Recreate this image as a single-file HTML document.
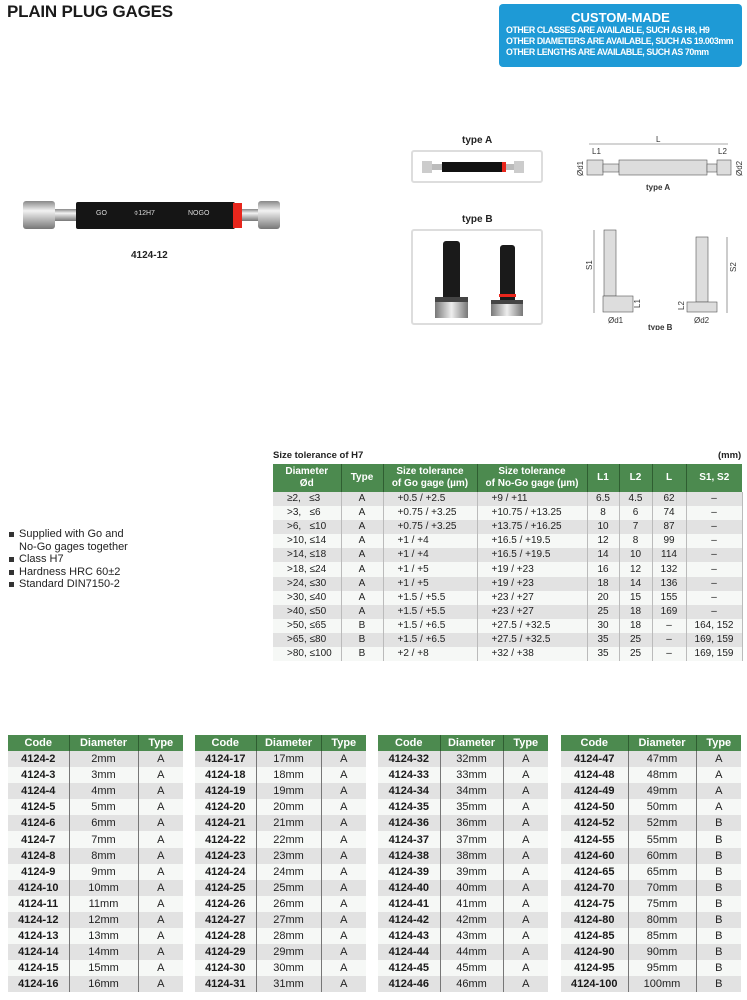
<!DOCTYPE html>
<html><head><meta charset="utf-8"><style>
*{margin:0;padding:0;box-sizing:border-box}
body{width:747px;height:1000px;background:#fff;position:relative;font-family:"Liberation Sans",Arial,sans-serif;overflow:hidden;color:#222}
.abs{position:absolute}
h1{position:absolute;left:7px;top:2px;font-size:17px;font-weight:bold;color:#1a1a1a;letter-spacing:-0.2px}
.cm{position:absolute;left:499px;top:4px;width:243px;height:63px;background:#1e9ad6;border-radius:4px;color:#fff;font-weight:bold}
.cm .t{text-align:center;font-size:13px;margin-top:7px;line-height:14px}
.cm .l{font-size:8.8px;line-height:11px;margin-left:7px;letter-spacing:-0.4px}
table{border-collapse:collapse;position:absolute;table-layout:fixed}
th{background:#4c8a4f;color:#fff;font-weight:bold;font-size:11px;text-align:center}
td{font-size:11px;text-align:center;padding:0;white-space:nowrap}
tr.g td{background:#e2e2e2}
tr.w td{background:#f6f8f6}
.bt th{height:16px;border-right:1px solid #2f5e31}
.bt td{height:16.1px;line-height:16px}
.bt td:first-child{font-weight:bold;color:#1a1a1a}
.bt td:nth-child(1),.bt td:nth-child(2){border-right:1px solid #777}
.bt th:last-child{border-right:none}
.ht th{height:28px;font-size:10px;line-height:12px;border-right:1px solid #2f5e31}
.ht td{height:14.1px;font-size:10px;line-height:14px;border-right:1px solid #bbb}
.ht td.lf{text-align:left;padding-left:14px}
.ul{position:absolute;left:8px;top:528px;font-size:11px;line-height:12.5px;color:#222;list-style:none}
.ul li{position:relative;padding-left:11px}
.ul li:before{content:"";position:absolute;left:1px;top:4px;width:5px;height:5px;background:#333}
.lbl{position:absolute;font-size:10px;font-weight:bold;color:#222}
</style></head><body>
<h1>PLAIN PLUG GAGES</h1>
<div class="cm"><div class="t">CUSTOM-MADE</div>
<div class="l">OTHER CLASSES ARE AVAILABLE, SUCH AS H8, H9</div>
<div class="l">OTHER DIAMETERS ARE AVAILABLE, SUCH AS 19.003mm</div>
<div class="l">OTHER LENGTHS ARE AVAILABLE, SUCH AS 70mm</div></div>

<svg class="abs" style="left:0;top:190px" width="300" height="50">
<defs><linearGradient id="m" x1="0" y1="0" x2="0" y2="1"><stop offset="0" stop-color="#888"/><stop offset="0.35" stop-color="#f2f2f2"/><stop offset="1" stop-color="#777"/></linearGradient></defs>
<rect x="23" y="11" width="32" height="28" rx="3" fill="url(#m)"/>
<rect x="55" y="19" width="22" height="12" fill="url(#m)"/>
<rect x="76" y="12" width="159" height="27" rx="2" fill="#151515"/>
<rect x="233" y="13" width="9" height="25" fill="#e8261c"/>
<rect x="242" y="19" width="17" height="12" fill="url(#m)"/>
<rect x="258" y="11" width="22" height="28" rx="3" fill="url(#m)"/>
<text x="96" y="25" font-size="7" fill="#ddd" font-family="Liberation Sans">GO</text>
<text x="134" y="25" font-size="7" fill="#ddd" font-family="Liberation Sans">⌽12H7</text>
<text x="188" y="25" font-size="7" fill="#ddd" font-family="Liberation Sans">NOGO</text>
</svg>
<div class="lbl" style="left:131px;top:250px">4124-12</div>

<div class="lbl" style="left:462px;top:135px">type A</div>
<div class="abs" style="left:411px;top:150px;width:132px;height:33px;border:2px solid #ddd;border-radius:3px"></div>
<svg class="abs" style="left:420px;top:157px" width="115" height="20">
<rect x="2" y="4" width="10" height="12" fill="#ccc"/><rect x="12" y="7" width="10" height="6" fill="#bbb"/>
<rect x="22" y="5" width="60" height="10" fill="#111"/><rect x="82" y="5" width="4" height="10" fill="#e8261c"/>
<rect x="86" y="7" width="8" height="6" fill="#bbb"/><rect x="94" y="4" width="10" height="12" fill="#ccc"/></svg>

<div class="lbl" style="left:462px;top:214px">type B</div>
<div class="abs" style="left:411px;top:229px;width:132px;height:96px;border:2px solid #ddd;border-radius:3px"></div>
<svg class="abs" style="left:413px;top:231px" width="128" height="92">
<defs><linearGradient id="s" x1="0" y1="0" x2="1" y2="0"><stop offset="0" stop-color="#777"/><stop offset="0.5" stop-color="#eee"/><stop offset="1" stop-color="#777"/></linearGradient></defs>
<rect x="30" y="10" width="17" height="70" rx="3" fill="#1a1a1a"/>
<rect x="22" y="66" width="33" height="21" fill="url(#s)"/><rect x="22" y="66" width="33" height="5" fill="#444"/>
<rect x="87" y="14" width="15" height="66" rx="3" fill="#1a1a1a"/><rect x="86" y="63" width="17" height="3" fill="#e8261c"/>
<rect x="78" y="69" width="32" height="16" fill="url(#s)"/><rect x="78" y="69" width="32" height="4" fill="#444"/>
</svg>

<svg class="abs" style="left:570px;top:130px" width="177" height="200" font-family="Liberation Sans" font-size="8" fill="#333">
<line x1="19" y1="14" x2="158" y2="14" stroke="#555" stroke-width="0.6"/>
<text x="86" y="12">L</text>
<text x="22" y="24">L1</text><text x="148" y="24">L2</text>
<rect x="17" y="30" width="16" height="15" fill="#ddd" stroke="#555" stroke-width="0.6"/>
<rect x="33" y="34" width="16" height="8" fill="#ddd" stroke="#555" stroke-width="0.6"/>
<rect x="49" y="30" width="88" height="15" fill="#ddd" stroke="#555" stroke-width="0.6"/>
<rect x="137" y="34" width="10" height="8" fill="#ddd" stroke="#555" stroke-width="0.6"/>
<rect x="147" y="30" width="14" height="15" fill="#ddd" stroke="#555" stroke-width="0.6"/>
<text x="0" y="0" transform="translate(13,46) rotate(-90)">Ød1</text>
<text x="0" y="0" transform="translate(172,46) rotate(-90)">Ød2</text>
<text x="76" y="60" font-weight="bold">type A</text>
<rect x="34" y="100" width="12" height="66" fill="#ddd" stroke="#555" stroke-width="0.6"/>
<rect x="33" y="166" width="30" height="16" fill="#ddd" stroke="#555" stroke-width="0.6"/>
<line x1="24" y1="100" x2="24" y2="183" stroke="#555" stroke-width="0.6"/>
<text x="0" y="0" transform="translate(22,140) rotate(-90)">S1</text>
<text x="0" y="0" transform="translate(70,178) rotate(-90)">L1</text>
<text x="38" y="193">Ød1</text>
<rect x="126" y="107" width="12" height="65" fill="#ddd" stroke="#555" stroke-width="0.6"/>
<rect x="117" y="172" width="30" height="10" fill="#ddd" stroke="#555" stroke-width="0.6"/>
<line x1="157" y1="107" x2="157" y2="183" stroke="#555" stroke-width="0.6"/>
<text x="0" y="0" transform="translate(166,142) rotate(-90)">S2</text>
<text x="0" y="0" transform="translate(114,180) rotate(-90)">L2</text>
<text x="124" y="193">Ød2</text>
<text x="78" y="200" font-weight="bold">type B</text>
</svg>

<ul class="ul"><li>Supplied with Go and<br>No-Go gages together</li><li>Class H7</li><li>Hardness HRC 60±2</li><li>Standard DIN7150-2</li></ul>

<div class="lbl" style="left:273px;top:450px;font-size:9.5px">Size tolerance of H7</div>
<div class="lbl" style="left:718px;top:450px;font-size:9.5px">(mm)</div>
<table class="ht" style="left:273px;top:464px;width:469px">
<colgroup><col style="width:68px"><col style="width:42px"><col style="width:94px"><col style="width:110px"><col style="width:32px"><col style="width:33px"><col style="width:34px"><col style="width:56px"></colgroup>
<tr><th>Diameter<br>Ød</th><th>Type</th><th>Size tolerance<br>of Go gage (µm)</th><th>Size tolerance<br>of No-Go gage (µm)</th><th>L1</th><th>L2</th><th>L</th><th style="border-right:none">S1, S2</th></tr>
<tr class="g"><td class="lf">≥2, &nbsp; ≤3</td><td>A</td><td class="lf">+0.5 / +2.5</td><td class="lf">+9 / +11</td><td>6.5</td><td>4.5</td><td>62</td><td>–</td></tr>
<tr class="w"><td class="lf">&gt;3, &nbsp; ≤6</td><td>A</td><td class="lf">+0.75 / +3.25</td><td class="lf">+10.75 / +13.25</td><td>8</td><td>6</td><td>74</td><td>–</td></tr>
<tr class="g"><td class="lf">&gt;6, &nbsp; ≤10</td><td>A</td><td class="lf">+0.75 / +3.25</td><td class="lf">+13.75 / +16.25</td><td>10</td><td>7</td><td>87</td><td>–</td></tr>
<tr class="w"><td class="lf">&gt;10, ≤14</td><td>A</td><td class="lf">+1 / +4</td><td class="lf">+16.5 / +19.5</td><td>12</td><td>8</td><td>99</td><td>–</td></tr>
<tr class="g"><td class="lf">&gt;14, ≤18</td><td>A</td><td class="lf">+1 / +4</td><td class="lf">+16.5 / +19.5</td><td>14</td><td>10</td><td>114</td><td>–</td></tr>
<tr class="w"><td class="lf">&gt;18, ≤24</td><td>A</td><td class="lf">+1 / +5</td><td class="lf">+19 / +23</td><td>16</td><td>12</td><td>132</td><td>–</td></tr>
<tr class="g"><td class="lf">&gt;24, ≤30</td><td>A</td><td class="lf">+1 / +5</td><td class="lf">+19 / +23</td><td>18</td><td>14</td><td>136</td><td>–</td></tr>
<tr class="w"><td class="lf">&gt;30, ≤40</td><td>A</td><td class="lf">+1.5 / +5.5</td><td class="lf">+23 / +27</td><td>20</td><td>15</td><td>155</td><td>–</td></tr>
<tr class="g"><td class="lf">&gt;40, ≤50</td><td>A</td><td class="lf">+1.5 / +5.5</td><td class="lf">+23 / +27</td><td>25</td><td>18</td><td>169</td><td>–</td></tr>
<tr class="w"><td class="lf">&gt;50, ≤65</td><td>B</td><td class="lf">+1.5 / +6.5</td><td class="lf">+27.5 / +32.5</td><td>30</td><td>18</td><td>–</td><td>164, 152</td></tr>
<tr class="g"><td class="lf">&gt;65, ≤80</td><td>B</td><td class="lf">+1.5 / +6.5</td><td class="lf">+27.5 / +32.5</td><td>35</td><td>25</td><td>–</td><td>169, 159</td></tr>
<tr class="w"><td class="lf">&gt;80, ≤100</td><td>B</td><td class="lf">+2 / +8</td><td class="lf">+32 / +38</td><td>35</td><td>25</td><td>–</td><td>169, 159</td></tr>
</table>

<table class="bt" style="left:8px;top:735px;width:175px">
<colgroup><col style="width:61px"><col style="width:69px"><col style="width:45px"></colgroup>
<tr><th>Code</th><th>Diameter</th><th>Type</th></tr>
<tr class="g"><td>4124-2</td><td>2mm</td><td>A</td></tr>
<tr class="w"><td>4124-3</td><td>3mm</td><td>A</td></tr>
<tr class="g"><td>4124-4</td><td>4mm</td><td>A</td></tr>
<tr class="w"><td>4124-5</td><td>5mm</td><td>A</td></tr>
<tr class="g"><td>4124-6</td><td>6mm</td><td>A</td></tr>
<tr class="w"><td>4124-7</td><td>7mm</td><td>A</td></tr>
<tr class="g"><td>4124-8</td><td>8mm</td><td>A</td></tr>
<tr class="w"><td>4124-9</td><td>9mm</td><td>A</td></tr>
<tr class="g"><td>4124-10</td><td>10mm</td><td>A</td></tr>
<tr class="w"><td>4124-11</td><td>11mm</td><td>A</td></tr>
<tr class="g"><td>4124-12</td><td>12mm</td><td>A</td></tr>
<tr class="w"><td>4124-13</td><td>13mm</td><td>A</td></tr>
<tr class="g"><td>4124-14</td><td>14mm</td><td>A</td></tr>
<tr class="w"><td>4124-15</td><td>15mm</td><td>A</td></tr>
<tr class="g"><td>4124-16</td><td>16mm</td><td>A</td></tr>
</table>
<table class="bt" style="left:195px;top:735px;width:171px">
<colgroup><col style="width:61px"><col style="width:65px"><col style="width:45px"></colgroup>
<tr><th>Code</th><th>Diameter</th><th>Type</th></tr>
<tr class="g"><td>4124-17</td><td>17mm</td><td>A</td></tr>
<tr class="w"><td>4124-18</td><td>18mm</td><td>A</td></tr>
<tr class="g"><td>4124-19</td><td>19mm</td><td>A</td></tr>
<tr class="w"><td>4124-20</td><td>20mm</td><td>A</td></tr>
<tr class="g"><td>4124-21</td><td>21mm</td><td>A</td></tr>
<tr class="w"><td>4124-22</td><td>22mm</td><td>A</td></tr>
<tr class="g"><td>4124-23</td><td>23mm</td><td>A</td></tr>
<tr class="w"><td>4124-24</td><td>24mm</td><td>A</td></tr>
<tr class="g"><td>4124-25</td><td>25mm</td><td>A</td></tr>
<tr class="w"><td>4124-26</td><td>26mm</td><td>A</td></tr>
<tr class="g"><td>4124-27</td><td>27mm</td><td>A</td></tr>
<tr class="w"><td>4124-28</td><td>28mm</td><td>A</td></tr>
<tr class="g"><td>4124-29</td><td>29mm</td><td>A</td></tr>
<tr class="w"><td>4124-30</td><td>30mm</td><td>A</td></tr>
<tr class="g"><td>4124-31</td><td>31mm</td><td>A</td></tr>
</table>
<table class="bt" style="left:378px;top:735px;width:170px">
<colgroup><col style="width:62px"><col style="width:63px"><col style="width:45px"></colgroup>
<tr><th>Code</th><th>Diameter</th><th>Type</th></tr>
<tr class="g"><td>4124-32</td><td>32mm</td><td>A</td></tr>
<tr class="w"><td>4124-33</td><td>33mm</td><td>A</td></tr>
<tr class="g"><td>4124-34</td><td>34mm</td><td>A</td></tr>
<tr class="w"><td>4124-35</td><td>35mm</td><td>A</td></tr>
<tr class="g"><td>4124-36</td><td>36mm</td><td>A</td></tr>
<tr class="w"><td>4124-37</td><td>37mm</td><td>A</td></tr>
<tr class="g"><td>4124-38</td><td>38mm</td><td>A</td></tr>
<tr class="w"><td>4124-39</td><td>39mm</td><td>A</td></tr>
<tr class="g"><td>4124-40</td><td>40mm</td><td>A</td></tr>
<tr class="w"><td>4124-41</td><td>41mm</td><td>A</td></tr>
<tr class="g"><td>4124-42</td><td>42mm</td><td>A</td></tr>
<tr class="w"><td>4124-43</td><td>43mm</td><td>A</td></tr>
<tr class="g"><td>4124-44</td><td>44mm</td><td>A</td></tr>
<tr class="w"><td>4124-45</td><td>45mm</td><td>A</td></tr>
<tr class="g"><td>4124-46</td><td>46mm</td><td>A</td></tr>
</table>
<table class="bt" style="left:561px;top:735px;width:180px">
<colgroup><col style="width:67px"><col style="width:68px"><col style="width:45px"></colgroup>
<tr><th>Code</th><th>Diameter</th><th>Type</th></tr>
<tr class="g"><td>4124-47</td><td>47mm</td><td>A</td></tr>
<tr class="w"><td>4124-48</td><td>48mm</td><td>A</td></tr>
<tr class="g"><td>4124-49</td><td>49mm</td><td>A</td></tr>
<tr class="w"><td>4124-50</td><td>50mm</td><td>A</td></tr>
<tr class="g"><td>4124-52</td><td>52mm</td><td>B</td></tr>
<tr class="w"><td>4124-55</td><td>55mm</td><td>B</td></tr>
<tr class="g"><td>4124-60</td><td>60mm</td><td>B</td></tr>
<tr class="w"><td>4124-65</td><td>65mm</td><td>B</td></tr>
<tr class="g"><td>4124-70</td><td>70mm</td><td>B</td></tr>
<tr class="w"><td>4124-75</td><td>75mm</td><td>B</td></tr>
<tr class="g"><td>4124-80</td><td>80mm</td><td>B</td></tr>
<tr class="w"><td>4124-85</td><td>85mm</td><td>B</td></tr>
<tr class="g"><td>4124-90</td><td>90mm</td><td>B</td></tr>
<tr class="w"><td>4124-95</td><td>95mm</td><td>B</td></tr>
<tr class="g"><td>4124-100</td><td>100mm</td><td>B</td></tr>
</table>
</body></html>
